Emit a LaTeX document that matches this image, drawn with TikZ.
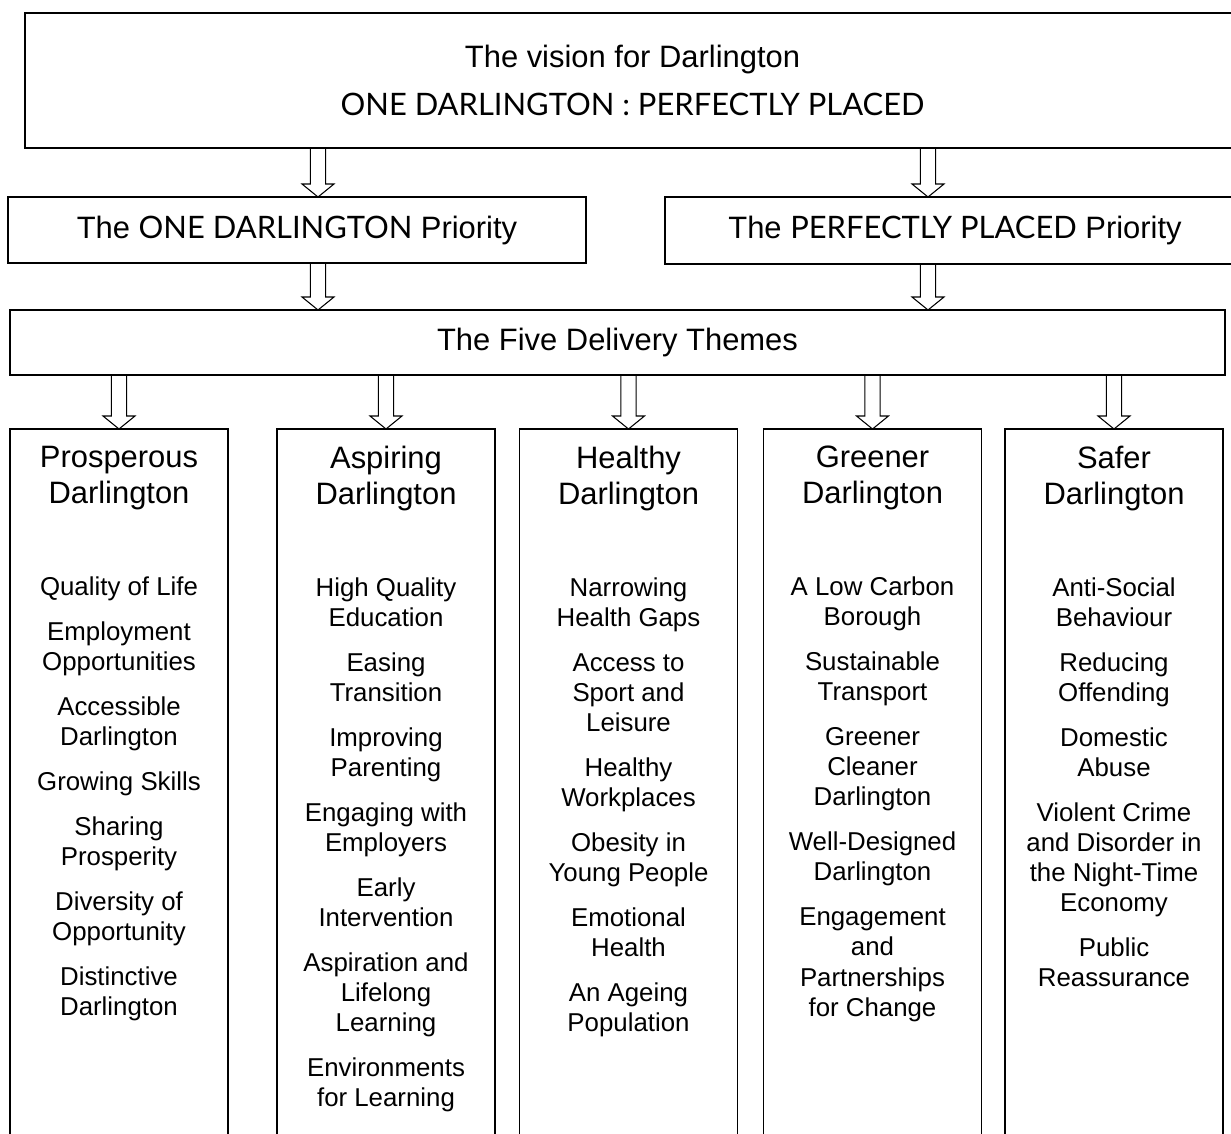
\documentclass[tikz,border=0pt]{standalone}
\usepackage{fontspec}
\setmainfont{Liberation Sans}
\newfontfamily\gillcaps{Lato}
\usetikzlibrary{calc,positioning}

% hollow block arrow from #1 down to #2
\newcommand{\blockarrow}[2]{%
  \draw[line width=0.6pt, line join=miter] let \p1=(#1), \p2=(#2) in
    (\x1-4.3pt,\y1) -- (\x1-4.3pt,\y2+7.4pt) -- (\x1-9.1pt,\y2+7.4pt)
    -- (\x1,\y2) -- (\x1+9.1pt,\y2+7.4pt) -- (\x1+4.3pt,\y2+7.4pt)
    -- (\x1+4.3pt,\y1);}

\tikzset{
  box/.style={draw, line width=0.8pt, inner sep=0pt, outer sep=0pt, align=center},
  bigtext/.style={font=\fontsize{17.6}{20.5}\selectfont},
  colbox/.style={box, anchor=north, minimum width=4.36cm, minimum height=14.42cm},
  colhead/.style={align=center, inner sep=0pt, font=\fontsize{17.6}{20.5}\selectfont},
  colitems/.style={align=center, inner sep=0pt, font=\fontsize{14.7}{17.1}\selectfont}
}

\begin{document}
\begin{tikzpicture}[x=0.02cm, y=-0.02cm]
  \useasboundingbox (0,0) rectangle (1231,1133);
  \clip (0,0) rectangle (1231,1133);

  % vision and priorities
  \node[box, bigtext, minimum width=24.3cm, minimum height=2.7cm,
        font=\fontsize{17.6}{27.3}\selectfont] (vision) at (632.5,80.5)
        {The vision for Darlington\\{\gillcaps ONE DARLINGTON : PERFECTLY PLACED}};
  \node[box, bigtext, minimum width=11.56cm, minimum height=1.32cm] (onep) at (297,230)
        {The {\gillcaps ONE DARLINGTON} Priority};
  \node[box, bigtext, minimum width=11.6cm, minimum height=1.34cm] (perp) at (955,230.5)
        {The {\gillcaps PERFECTLY PLACED} Priority};
  \node[box, bigtext, minimum width=24.3cm, minimum height=1.3cm] (themes) at (617.5,342.5)
        {The Five Delivery Themes};

  \coordinate (lx) at (318,0);
  \coordinate (rx) at (928,0);

  % theme columns
  \node[colbox] (c1) at (119,429) {};
  \node[colbox] (c2) at (386,429) {};
  \node[colbox] (c3) at (628.5,429) {};
  \node[colbox] (c4) at (872.5,429) {};
  \node[colbox] (c5) at (1114,429) {};

  \node[colhead, below=0.34cm of c1.north] (h1) {Prosperous\\Darlington};
  \node[colhead, below=0.34cm of c2.north] (h2) {Aspiring\\Darlington};
  \node[colhead, below=0.34cm of c3.north] (h3) {Healthy\\Darlington};
  \node[colhead, below=0.34cm of c4.north] (h4) {Greener\\Darlington};
  \node[colhead, below=0.34cm of c5.north] (h5) {Safer\\Darlington};

  \node[colitems, below=1.32cm of h1] (t1) {Quality of Life\\[8.5pt]
    Employment\\Opportunities\\[8.5pt]Accessible\\Darlington\\[8.5pt]
    Growing Skills\\[8.5pt]Sharing\\Prosperity\\[8.5pt]
    Diversity of\\Opportunity\\[8.5pt]Distinctive\\Darlington};
  \node[colitems, below=1.32cm of h2] (t2) {High Quality\\Education\\[8.5pt]
    Easing\\Transition\\[8.5pt]Improving\\Parenting\\[8.5pt]
    Engaging with\\Employers\\[8.5pt]Early\\Intervention\\[8.5pt]
    Aspiration and\\Lifelong\\Learning\\[8.5pt]Environments\\for Learning};
  \node[colitems, below=1.32cm of h3] (t3) {Narrowing\\Health Gaps\\[8.5pt]
    Access to\\Sport and\\Leisure\\[8.5pt]Healthy\\Workplaces\\[8.5pt]
    Obesity in\\Young People\\[8.5pt]Emotional\\Health\\[8.5pt]
    An Ageing\\Population};
  \node[colitems, below=1.32cm of h4] (t4) {A Low Carbon\\Borough\\[8.5pt]
    Sustainable\\Transport\\[8.5pt]Greener\\Cleaner\\Darlington\\[8.5pt]
    Well-Designed\\Darlington\\[8.5pt]Engagement\\and\\Partnerships\\for Change};
  \node[colitems, below=1.32cm of h5] (t5) {Anti-Social\\Behaviour\\[8.5pt]
    Reducing\\Offending\\[8.5pt]Domestic\\Abuse\\[8.5pt]
    Violent Crime\\and Disorder in\\the Night-Time\\Economy\\[8.5pt]
    Public\\Reassurance};

  % block arrows
  \blockarrow{vision.south -| lx}{onep.north -| lx}
  \blockarrow{vision.south -| rx}{perp.north -| rx}
  \blockarrow{onep.south -| lx}{themes.north -| lx}
  \blockarrow{perp.south -| rx}{themes.north -| rx}
  \foreach \c in {c1,c2,c3,c4,c5}
    \blockarrow{themes.south -| \c.north}{\c.north};
\end{tikzpicture}
\end{document}
